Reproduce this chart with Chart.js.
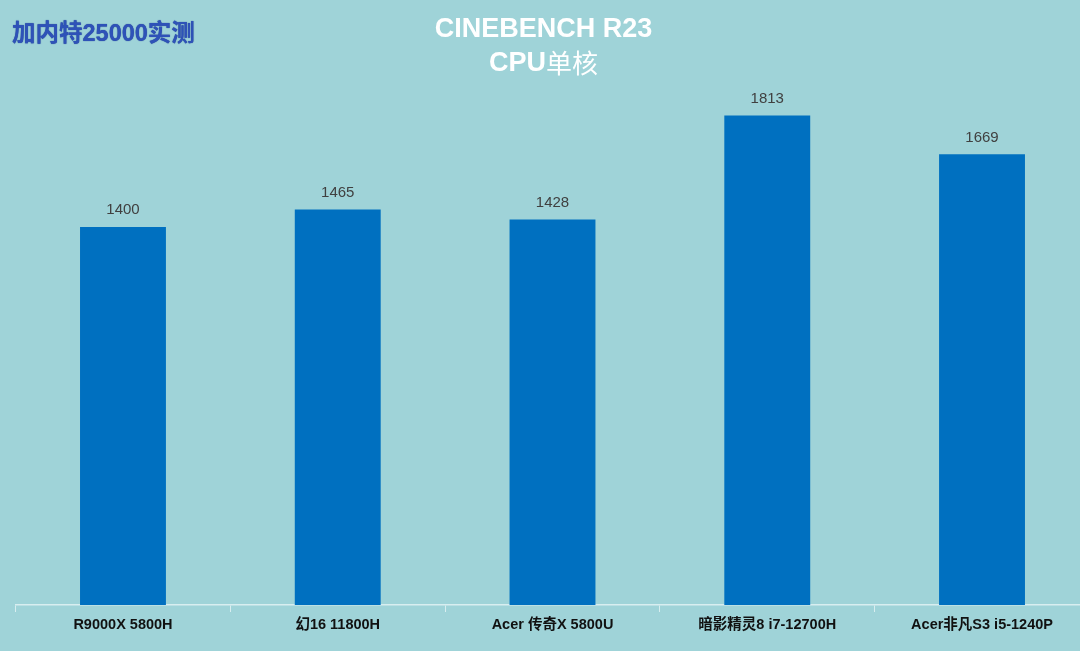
<!DOCTYPE html>
<html>
<head>
<meta charset="utf-8">
<script src="https://cdn.jsdelivr.net/npm/chart.js@4"></script>
<style>
  html, body { margin: 0; padding: 0; background: #9fd3d8; overflow: hidden; width: 1080px; height: 651px; }
  #wrap { position: absolute; left: 0; top: 0; width: 1095px; height: 651px; }
  #corner { position: absolute; left: 12px; top: 14px; font: bold 23.5px "Liberation Sans", "Noto Sans CJK SC", sans-serif;
    color: #2e52b8; text-shadow: 0 0 1px #1d3a8a; white-space: nowrap; z-index: 2; }
</style>
</head>
<body>
<div id="corner">加内特25000实测</div>
<div id="wrap"><canvas id="c"></canvas></div>
<script>
const categories = ["R9000X 5800H", "幻16 11800H", "Acer 传奇X 5800U", "暗影精灵8 i7-12700H", "Acer非凡S3 i5-1240P"];
const scores = [1400, 1465, 1428, 1813, 1669];
const titleLine1 = "CINEBENCH R23";
const titleLine2Latin = "CPU";
const titleLine2Cjk = "单核";

const valueLabels = {
  id: 'valueLabels',
  afterDatasetsDraw(chart) {
    const ctx = chart.ctx;
    const meta = chart.getDatasetMeta(0);
    ctx.save();
    ctx.font = '15px "Liberation Sans", Arial, sans-serif';
    ctx.fillStyle = '#404040';
    ctx.textAlign = 'center';
    ctx.textBaseline = 'middle';
    meta.data.forEach((bar, i) => {
      ctx.fillText(String(chart.data.datasets[0].data[i]), bar.x, bar.y - 17);
    });
    ctx.restore();
  }
};

const titleDraw = {
  id: 'titleDraw',
  afterDraw(chart) {
    const ctx = chart.ctx;
    const cx = 543.5;
    ctx.save();
    ctx.fillStyle = '#ffffff';
    ctx.textBaseline = 'middle';
    ctx.textAlign = 'center';
    ctx.font = 'bold 27px "Liberation Sans", "Noto Sans CJK SC", sans-serif';
    ctx.fillText(titleLine1, cx, 30);
    const fLatin = 'bold 27px "Liberation Sans", sans-serif';
    const fCjk = '26px "Noto Sans CJK SC", sans-serif';
    ctx.font = fLatin; const w1 = ctx.measureText(titleLine2Latin).width;
    ctx.font = fCjk; const w2 = ctx.measureText(titleLine2Cjk).width;
    const x0 = cx - (w1 + w2) / 2;
    ctx.textAlign = 'left';
    ctx.font = fLatin; ctx.fillText(titleLine2Latin, x0, 64);
    ctx.font = fCjk; ctx.fillText(titleLine2Cjk, x0 + w1, 63);
    ctx.restore();
  }
};

new Chart(document.getElementById('c'), {
  type: 'bar',
  data: {
    labels: categories,
    datasets: [{
      data: scores,
      backgroundColor: '#0070c0',
      barPercentage: 0.4,
      categoryPercentage: 1.0
    }]
  },
  options: {
    responsive: true,
    maintainAspectRatio: false,
    animation: false,
    layout: { padding: { left: 15.6, right: 5.6, top: 65, bottom: 0 } },
    plugins: { legend: { display: false }, title: { display: false }, tooltip: { enabled: false } },
    scales: {
      x: {
        offset: true,
        afterFit(scale) { scale.height = 46; },
        grid: { offset: true, drawOnChartArea: false, drawTicks: true, tickLength: 7, color: '#d8eef0' },
        border: { display: true, color: '#d8eef0', width: 1.5 },
        ticks: { color: '#111111', padding: 4, maxRotation: 0, autoSkip: false,
          font: { family: '"Liberation Sans", "Noto Sans CJK SC", sans-serif', size: 14.5, weight: 'bold' } }
      },
      y: {
        display: false,
        min: 0, max: 2000
      }
    }
  },
  plugins: [valueLabels, titleDraw]
});
</script>
</body>
</html>
